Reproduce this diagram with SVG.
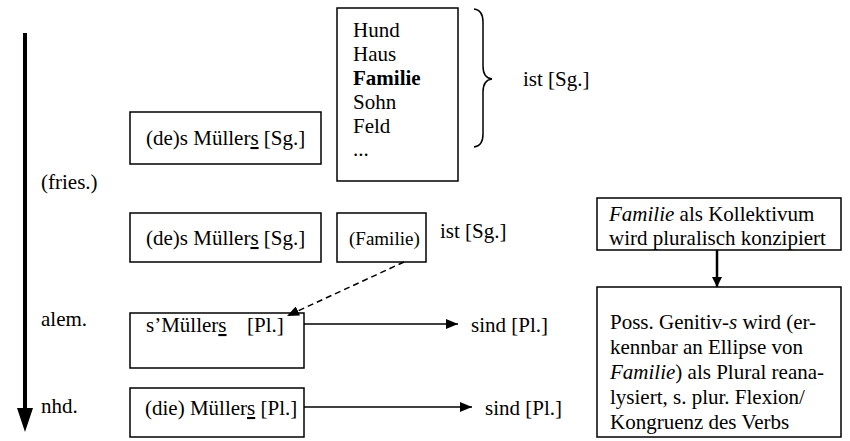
<svg xmlns="http://www.w3.org/2000/svg" width="850" height="441" viewBox="0 0 850 441" font-family="'Liberation Serif', 'Times New Roman', serif">
<defs>
<marker id="ah" viewBox="0 0 12 10" refX="12" refY="5" markerWidth="12" markerHeight="10" markerUnits="userSpaceOnUse" orient="auto"><path d="M0,0 L12,5 L0,10 z" fill="#000"/></marker>
<marker id="ahBig" viewBox="0 0 10 10" refX="10" refY="5" markerWidth="10" markerHeight="10" markerUnits="userSpaceOnUse" orient="auto"><path d="M0,0 L10,5 L0,10 z" fill="#000"/></marker>
</defs>
<style>
text{font-family:"Liberation Serif","Times New Roman",serif;font-size:21px;fill:#000}
.box{fill:#fff;stroke:#000;stroke-width:1.5}
.u{text-decoration:underline}
.b{font-weight:bold}
.i{font-style:italic}
.ln{stroke:#000;stroke-width:1.5;fill:none}
</style>
<g id="timeline">
<line x1="25" y1="33" x2="25" y2="410" stroke="#000" stroke-width="4"/>
<path d="M17,408 L33,408 L25,432 z" fill="#000"/>
<text x="41" y="189">(fries.)</text>
<text x="41" y="326">alem.</text>
<text x="41" y="413">nhd.</text>
</g>
<g id="box1">
<rect class="box" x="130" y="112" width="191" height="52"/>
<text x="146" y="145">(de)s Müller<tspan class="u">s</tspan> [Sg.]</text>
</g>
<g id="wordlist">
<rect class="box" x="337" y="8" width="121" height="173"/>
<text x="353" y="37">Hund</text>
<text x="353" y="61">Haus</text>
<text x="353" y="85" class="b">Familie</text>
<text x="353" y="109">Sohn</text>
<text x="353" y="133">Feld</text>
<text x="353" y="156">...</text>
</g>
<g id="brace">
<path class="ln" d="M474,9 Q483,10 483,22 L483,66 Q483,78 492,79 Q483,80 483,92 L483,134 Q483,146 474,147"/>
<text x="523" y="86">ist [Sg.]</text>
</g>
<g id="box2">
<rect class="box" x="130" y="213" width="191" height="49"/>
<text x="146" y="245">(de)s Müller<tspan class="u">s</tspan> [Sg.]</text>
</g>
<g id="familie">
<rect class="box" x="337" y="213" width="89" height="49"/>
<text x="349" y="245" style="font-size:19px">(Familie)</text>
</g>
<text x="440" y="238">ist [Sg.]</text>
<g id="box3">
<rect class="box" x="130" y="313" width="174" height="55"/>
<text x="146" y="332">s’Müller<tspan class="u">s</tspan><tspan x="247">[Pl.]</tspan></text>
</g>
<text x="471" y="332">sind [Pl.]</text>
<g id="box4">
<rect class="box" x="130" y="388" width="174" height="49"/>
<text x="145" y="415">(die) Müller<tspan class="u">s</tspan> [Pl.]</text>
</g>
<text x="485" y="415">sind [Pl.]</text>
<g id="note1">
<rect class="box" x="597" y="198" width="244" height="52"/>
<text x="609" y="221"><tspan class="i">Familie</tspan> als Kollektivum</text>
<text x="609" y="245">wird pluralisch konzipiert</text>
</g>
<g id="note2">
<rect class="box" x="597" y="287" width="244" height="150"/>
<text x="610" y="329">Poss. Genitiv-<tspan class="i">s</tspan> wird (er-</text>
<text x="610" y="354">kennbar an Ellipse von</text>
<text x="610" y="379"><tspan class="i">Familie</tspan>) als Plural reana-</text>
<text x="610" y="404">lysiert, s. plur. Flexion/</text>
<text x="610" y="429">Kongruenz des Verbs</text>
</g>
<g id="connectors">
<line class="ln" x1="404" y1="262" x2="287" y2="316" stroke-dasharray="6,4" marker-end="url(#ah)"/>
<line class="ln" x1="304" y1="324" x2="458" y2="324" marker-end="url(#ah)"/>
<line class="ln" x1="304" y1="407" x2="472" y2="407" marker-end="url(#ah)"/>
<line x1="717" y1="250" x2="717" y2="287" stroke="#000" stroke-width="2.5" marker-end="url(#ahBig)"/>
</g>
</svg>
